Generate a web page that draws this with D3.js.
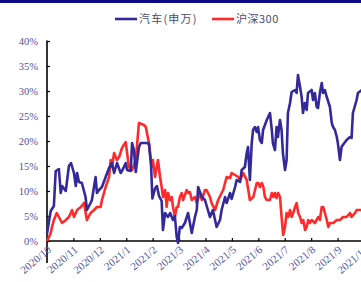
<!DOCTYPE html>
<html>
<head>
<meta charset="utf-8">
<script src="https://cdn.jsdelivr.net/npm/d3@7"></script>
<style>
  html, body { margin: 0; padding: 0; background: #fff; overflow: hidden; }
  svg { display: block; }
</style>
</head>
<body>
<div id="chart"></div>
<script>
// month labels, x values are month offsets from 2020/10
const monthLabels = ['2020/10', '2020/11', '2020/12', '2021/1', '2021/2', '2021/3', '2021/4',
  '2021/5', '2021/6', '2021/7', '2021/8', '2021/9', '2021/10'];
const yTicks = [0, 5, 10, 15, 20, 25, 30, 35, 40];
const seriesNames = ['汽车(申万)', '沪深300'];

const autoX = [0, 0.14, 0.26, 0.33, 0.45, 0.52, 0.57, 0.71, 0.83, 0.91, 1.02, 1.09, 1.14, 1.21, 1.32,
  1.46, 1.51, 1.65, 1.70, 1.84, 1.89, 1.97, 2.08, 2.22, 2.35, 2.46, 2.54, 2.65, 2.79, 2.84, 2.98,
  3.03, 3.17, 3.22, 3.29, 3.36, 3.48, 3.55, 3.79, 3.86, 3.94, 3.99, 4.09, 4.16, 4.24, 4.34, 4.39,
  4.47, 4.58, 4.66, 4.77, 4.84, 4.91, 4.96, 5.03, 5.10, 5.22, 5.34, 5.48, 5.60, 5.67, 5.72, 5.86,
  5.98, 6.09, 6.17, 6.28, 6.42, 6.55, 6.61, 6.74, 6.80, 6.93, 6.99, 7.12, 7.18, 7.31, 7.37, 7.49,
  7.56, 7.61, 7.68, 7.75, 7.80, 7.87, 7.94, 7.99, 8.06, 8.13, 8.18, 8.32, 8.44, 8.51, 8.55, 8.63,
  8.69, 8.74, 8.82, 8.88, 8.93, 9.01, 9.07, 9.12, 9.20, 9.26, 9.39, 9.45, 9.50, 9.58, 9.64, 9.69,
  9.76, 9.83, 9.88, 10.02, 10.07, 10.14, 10.21, 10.26, 10.33, 10.40, 10.45, 10.52, 10.59, 10.71,
  10.78, 10.83, 10.90, 10.97, 11.01, 11.09, 11.15, 11.20, 11.34, 11.47, 11.53, 11.58, 11.72, 11.77, 11.92];
const autoY = [1.5, 6.0, 7.0, 14.0, 14.4, 9.6, 11.0, 10.0, 15.0, 15.6, 13.6, 11.0, 13.6, 11.8, 11.6,
  8.8, 6.2, 7.6, 8.2, 12.8, 9.6, 10.2, 10.8, 12.8, 14.6, 15.6, 13.6, 15.6, 13.6, 14.0, 15.6,
  14.2, 14.0, 19.6, 18.2, 13.8, 18.8, 19.6, 19.6, 19.4, 15.0, 8.5, 10.5, 11.0, 9.0, 8.0, 2.2,
  5.6, 4.8, 5.6, 4.2, 5.0, 0.8, -0.4, 2.8, 2.6, 3.6, 5.6, 1.6, 4.8, 6.2, 10.8, 8.8,
  8.2, 6.2, 4.8, 6.2, 2.8, 4.2, 6.2, 8.8, 7.6, 9.6, 8.4, 10.8, 12.2, 11.8, 14.2, 14.8,
  17.6, 18.8, 12.2, 19.6, 22.2, 22.8, 21.8, 22.8, 20.2, 19.6, 22.2, 24.2, 25.6, 22.2, 19.6, 18.2,
  22.8, 20.8, 24.2, 22.2, 17.6, 14.2, 16.2, 25.6, 27.6, 29.8, 30.2, 29.6, 33.2, 30.8, 28.8, 25.6,
  27.6, 26.2, 29.6, 30.2, 28.2, 29.6, 26.8, 26.6, 29.6, 31.6, 29.6, 30.2, 28.8, 26.8,
  23.6, 22.8, 22.2, 20.8, 19.6, 16.2, 18.8, 19.2, 20.2, 20.8, 20.6, 25.6, 28.2, 29.6, 30.2];

const hsX = [0, 0.06, 0.14, 0.19, 0.26, 0.37, 0.45, 0.57, 0.71, 0.83, 0.95, 1.02, 1.14, 1.28, 1.40,
  1.51, 1.65, 1.78, 1.89, 2.03, 2.08, 2.22, 2.35, 2.41, 2.46, 2.54, 2.65, 2.73, 2.84, 2.98, 3.10,
  3.22, 3.36, 3.48, 3.67, 3.74, 3.86, 3.92, 3.97, 4.01, 4.09, 4.20, 4.28, 4.34, 4.39, 4.47, 4.53,
  4.58, 4.66, 4.72, 4.77, 4.84, 4.91, 4.96, 5.03, 5.10, 5.15, 5.29, 5.34, 5.41, 5.48, 5.60, 5.67,
  5.79, 5.86, 5.98, 6.04, 6.17, 6.23, 6.36, 6.48, 6.61, 6.67, 6.80, 6.93, 6.99, 7.12, 7.24, 7.31,
  7.43, 7.56, 7.68, 7.81, 7.94, 8.00, 8.06, 8.13, 8.19, 8.25, 8.32, 8.44, 8.51, 8.57, 8.63, 8.69,
  8.75, 8.82, 8.88, 8.94, 9.01, 9.07, 9.13, 9.20, 9.26, 9.32, 9.39, 9.45, 9.51, 9.58, 9.64, 9.70,
  9.77, 9.83, 9.89, 9.95, 10.02, 10.14, 10.27, 10.33, 10.40, 10.46, 10.52, 10.59, 10.65, 10.71,
  10.84, 10.97, 11.09, 11.21, 11.34, 11.47, 11.53, 11.66, 11.72, 11.92];
const hsY = [0.0, 0.6, 1.6, 2.8, 4.2, 5.6, 4.8, 3.6, 4.2, 4.8, 6.2, 4.8, 6.2, 6.8, 7.6,
  4.2, 5.6, 6.2, 6.8, 6.8, 8.2, 10.8, 12.8, 16.2, 14.8, 17.6, 16.2, 16.8, 18.6, 19.8, 14.8,
  14.2, 16.2, 23.6, 23.2, 22.8, 19.6, 16.8, 14.8, 16.2, 12.8, 16.2, 12.8, 10.8, 8.8, 10.2, 6.8,
  9.6, 8.2, 8.8, 6.8, 4.8, 6.8, 6.8, 8.8, 9.6, 8.2, 10.2, 9.6, 9.8, 8.2, 8.8, 7.6,
  9.6, 8.2, 10.2, 10.2, 8.8, 7.6, 6.2, 8.2, 9.6, 10.2, 12.8, 12.6, 13.6, 13.2, 12.8, 12.2,
  13.6, 12.2, 8.2, 8.8, 11.6, 11.6, 10.8, 11.6, 10.8, 8.8, 8.2, 8.2, 9.6, 8.8, 9.6, 8.6,
  9.6, 8.8, 4.8, 1.2, 2.8, 5.6, 4.8, 6.2, 4.8, 5.6, 6.8, 7.6, 5.6, 4.8, 3.6, 4.2,
  2.2, 2.8, 4.2, 3.6, 4.2, 3.6, 4.8, 4.2, 6.8, 6.8, 5.6, 4.2, 2.8, 3.6,
  3.6, 4.2, 4.2, 4.8, 4.8, 5.6, 4.8, 5.6, 6.2, 6.2];

const colors = ['#34299a', '#ff2a2a'];
const W = 361, H = 282;
const plot = { left: 47, right: 364, top: 41, bottom: 241 };

const svg = d3.select('#chart').append('svg')
  .attr('width', W).attr('height', H);

// top banner strip
svg.append('rect').attr('x', 0).attr('y', 0).attr('width', W).attr('height', 3).attr('fill', '#0b0c84');

const x = d3.scaleLinear().domain([0, 12]).range([plot.left, plot.right]);
const y = d3.scaleLinear().domain([0, 40]).range([plot.bottom, plot.top]);

const labelColor = '#5252a3';
const serif = '"Liberation Serif", "DejaVu Serif", serif';

// y axis
const yAxis = d3.axisRight(y).tickValues(yTicks).tickSize(3).tickFormat('');
const gy = svg.append('g').attr('transform', `translate(${plot.left},0)`).call(yAxis);
gy.select('.domain').remove();
gy.selectAll('.tick line').attr('stroke', '#000').attr('stroke-width', 1.2);
svg.append('line').attr('x1', plot.left).attr('x2', plot.left).attr('y1', plot.top - 0.5).attr('y2', 263)
  .attr('stroke', '#000').attr('stroke-width', 1.6);

svg.append('g').selectAll('text').data(yTicks).enter().append('text')
  .attr('x', 38).attr('y', d => y(d) + 3.5)
  .attr('text-anchor', 'end')
  .style('font-family', serif).style('font-size', '10.5px').style('fill', labelColor)
  .text(d => d + '%');

// x axis
const xAxis = d3.axisTop(x).tickValues(d3.range(0, 13)).tickSize(3).tickFormat('');
const gx = svg.append('g').attr('transform', `translate(0,${plot.bottom})`).call(xAxis);
gx.select('.domain').remove();
gx.selectAll('.tick line').attr('stroke', '#000').attr('stroke-width', 1.2);
svg.append('line').attr('x1', plot.left).attr('x2', W).attr('y1', plot.bottom).attr('y2', plot.bottom)
  .attr('stroke', '#000').attr('stroke-width', 1.6);

svg.append('g').selectAll('text').data(monthLabels).enter().append('text')
  .attr('transform', (d, i) => `translate(${x(i) + 5},${plot.bottom + 10}) rotate(-40)`)
  .attr('text-anchor', 'end')
  .style('font-family', serif).style('font-size', '11px').style('fill', labelColor)
  .text(d => d);

// lines, red first so blue sits on top
const line = d3.line().x(d => x(d[0])).y(d => y(d[1]));
const series = [d3.zip(autoX, autoY), d3.zip(hsX, hsY)];
svg.append('g').selectAll('path').data([series[1], series[0]]).enter().append('path')
  .attr('d', line)
  .attr('fill', 'none')
  .attr('stroke', (d, i) => colors[1 - i])
  .attr('stroke-width', 2.6)
  .attr('stroke-linejoin', 'round');

// legend
const legendPos = [115, 212];
const lg = svg.append('g');
seriesNames.forEach((name, i) => {
  lg.append('line').attr('x1', legendPos[i]).attr('x2', legendPos[i] + 22)
    .attr('y1', 19).attr('y2', 19)
    .attr('stroke', colors[i]).attr('stroke-width', 2.6);
  lg.append('text').attr('x', legendPos[i] + 24).attr('y', 23)
    .style('font-family', '"Noto Sans CJK SC", sans-serif').style('font-size', '11px')
    .style('letter-spacing', i === 0 ? '1.2px' : '0.5px')
    .style('fill', '#4a4a70')
    .text(name);
});
</script>
</body>
</html>
